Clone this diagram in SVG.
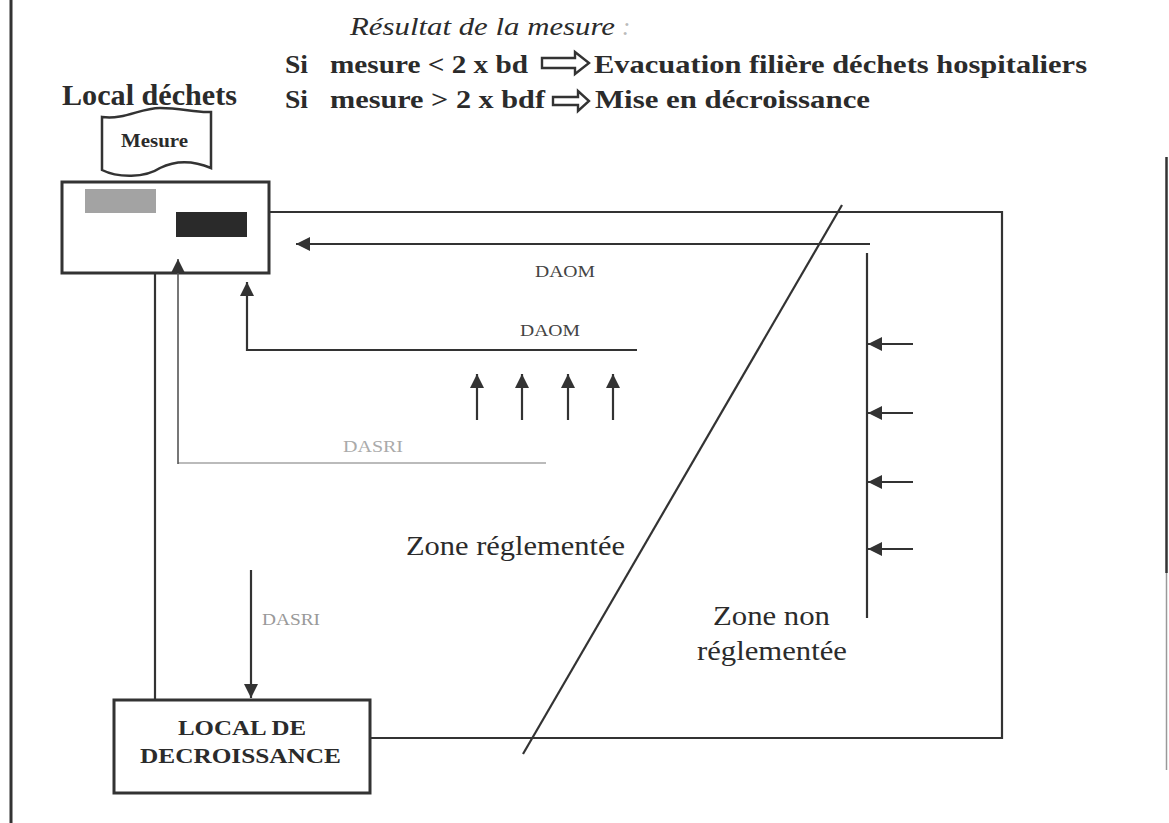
<svg xmlns="http://www.w3.org/2000/svg" width="1169" height="823" viewBox="0 0 1169 823">
<defs>
<style>
.t{font-family:"Liberation Serif","Times New Roman",serif;fill:#2b2b2b}
.b{font-weight:bold}
.ln{fill:none;stroke:#333;stroke-width:2.2}
.lab{font-family:"Liberation Serif","Times New Roman",serif;font-size:16px}
</style>
<marker id="ah" viewBox="0 0 10 10" refX="10" refY="5" markerWidth="15" markerHeight="14" markerUnits="userSpaceOnUse" orient="auto">
<path d="M0,0 L10,5 L0,10 z" fill="#333"/>
</marker>
</defs>
<rect width="1169" height="823" fill="#fff"/>

<g id="frame">
<line x1="11" y1="0" x2="11" y2="823" stroke="#333" stroke-width="3"/>
<line x1="1166.5" y1="157" x2="1166.5" y2="573" stroke="#333" stroke-width="2.5"/>
<line x1="1166.5" y1="573" x2="1166.5" y2="770" stroke="#999" stroke-width="1.5"/>
</g>

<g id="header">
<text class="t" x="350" y="35" font-size="25" font-style="italic" textLength="265" lengthAdjust="spacingAndGlyphs">Résultat de la mesure</text>
<text class="t" x="622" y="35" font-size="25" font-style="italic" style="fill:#bbb">:</text>
<text class="t b" x="285" y="73" font-size="26" textLength="23" lengthAdjust="spacingAndGlyphs">Si</text>
<text class="t b" x="330" y="73" font-size="26" textLength="198" lengthAdjust="spacingAndGlyphs">mesure &lt; 2 x bd</text>
<polygon points="542,58 575,58 575,52 589,63 575,74 575,68 542,68" fill="none" stroke="#333" stroke-width="2.4"/>
<text class="t b" x="594" y="73" font-size="26" textLength="493" lengthAdjust="spacingAndGlyphs">Evacuation filière déchets hospitaliers</text>
<text class="t b" x="285" y="108" font-size="26" textLength="23" lengthAdjust="spacingAndGlyphs">Si</text>
<text class="t b" x="330" y="108" font-size="26" textLength="215" lengthAdjust="spacingAndGlyphs">mesure &gt; 2 x bdf</text>
<polygon points="553,97 578,97 578,91 589,101 578,111 578,105 553,105" fill="none" stroke="#333" stroke-width="2.4"/>
<text class="t b" x="595" y="108" font-size="26" textLength="275" lengthAdjust="spacingAndGlyphs">Mise en décroissance</text>
<text class="t b" x="62" y="105" font-size="30" textLength="175" lengthAdjust="spacingAndGlyphs">Local déchets</text>
</g>

<g id="mesure-doc">
<path d="M102,117 C125,120 140,108 160,108 C182,108 195,113 211,112 L211,168 C192,160 176,160 160,168 C145,178 118,178 102,170 Z" fill="#fff" stroke="#333" stroke-width="2.5"/>
<text class="t b" x="121" y="147" font-size="18" textLength="67" lengthAdjust="spacingAndGlyphs">Mesure</text>
</g>

<g id="meter">
<rect x="62" y="182" width="207" height="91" fill="#fff" stroke="#333" stroke-width="3"/>
<rect x="85" y="189" width="71" height="24" fill="#a3a3a3"/>
<rect x="176" y="212" width="71" height="25" fill="#2a2a2a"/>
</g>

<g id="local-decroissance">
<rect x="114" y="700" width="256" height="93" fill="#fff" stroke="#333" stroke-width="3"/>
<text class="t b" x="178" y="735" font-size="20" textLength="128" lengthAdjust="spacingAndGlyphs">LOCAL DE</text>
<text class="t b" x="140" y="763" font-size="20" textLength="201" lengthAdjust="spacingAndGlyphs">DECROISSANCE</text>
</g>

<g id="zones">
<text class="t" x="406" y="555" font-size="28" textLength="219" lengthAdjust="spacingAndGlyphs">Zone réglementée</text>
<text class="t" x="713" y="625" font-size="28" textLength="117" lengthAdjust="spacingAndGlyphs">Zone non</text>
<text class="t" x="697" y="660" font-size="28" textLength="150" lengthAdjust="spacingAndGlyphs">réglementée</text>
</g>

<g id="connectors">
<path class="ln" d="M269,212 L1002,212 L1002,738 L370,738" stroke-width="2.5"/>
<line class="ln" x1="842" y1="205" x2="523" y2="754"/>
<line class="ln" x1="870" y1="244" x2="296" y2="244" marker-end="url(#ah)"/>
<line class="ln" x1="867" y1="253" x2="867" y2="618"/>
<line class="ln" x1="913" y1="344" x2="868" y2="344" marker-end="url(#ah)"/>
<line class="ln" x1="913" y1="413" x2="868" y2="413" marker-end="url(#ah)"/>
<line class="ln" x1="913" y1="482" x2="868" y2="482" marker-end="url(#ah)"/>
<line class="ln" x1="913" y1="549" x2="868" y2="549" marker-end="url(#ah)"/>
<path class="ln" d="M637,350 L247,350 L247,282" marker-end="url(#ah)"/>
<line class="ln" x1="477" y1="420" x2="477" y2="374" marker-end="url(#ah)"/>
<line class="ln" x1="522" y1="420" x2="522" y2="374" marker-end="url(#ah)"/>
<line class="ln" x1="568" y1="420" x2="568" y2="374" marker-end="url(#ah)"/>
<line class="ln" x1="613" y1="420" x2="613" y2="374" marker-end="url(#ah)"/>
<line x1="546" y1="463" x2="178" y2="463" stroke="#bbb" stroke-width="2"/>
<line x1="178" y1="464" x2="178" y2="259" stroke="#555" stroke-width="1.6" marker-end="url(#ah)"/>
<line class="ln" x1="155" y1="273" x2="155" y2="700"/>
<line class="ln" x1="251" y1="570" x2="251" y2="698" marker-end="url(#ah)"/>
<text class="lab" x="535" y="277" fill="#444" textLength="60" lengthAdjust="spacingAndGlyphs">DAOM</text>
<text class="lab" x="520" y="336" fill="#444" textLength="60" lengthAdjust="spacingAndGlyphs">DAOM</text>
<text class="lab" x="343" y="452" fill="#aaa" textLength="60" lengthAdjust="spacingAndGlyphs">DASRI</text>
<text class="lab" x="262" y="625" fill="#999" textLength="58" lengthAdjust="spacingAndGlyphs">DASRI</text>
</g>
</svg>
